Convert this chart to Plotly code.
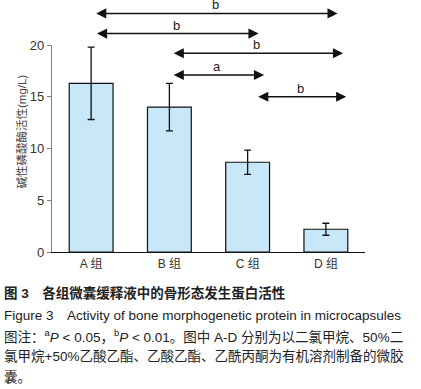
import plotly.graph_objects as go

# ---- data ----
categories = ["A 组", "B 组", "C 组", "D 组"]
values = [16.3, 14.0, 8.67, 2.2]
errors = [3.5, 2.3, 1.17, 0.58]
y_ticks = [0, 5, 10, 15, 20]
# significance comparisons: (from group index, to group index, label)
comparisons = [(0, 3, "b"), (0, 2, "b"), (1, 3, "b"), (1, 2, "a"), (2, 3, "b")]

y_title = "碱性磷酸酶活性(mg/L)"
caption_lines = [
    "<b>图 3\u3000各组微囊缓释液中的骨形态发生蛋白活性</b>",
    "Figure 3\u3000Activity of bone morphogenetic protein in microcapsules",
    "图注：<sup>a</sup><i>P</i> < 0.05，<sup>b</sup><i>P</i> < 0.01。图中 A-D 分别为以二氯甲烷、50%二",
    "氯甲烷+50%乙酸乙酯、乙酸乙酯、乙酰丙酮为有机溶剂制备的微胶",
    "囊。",
]

# ---- styling / layout ----
W, H = 421, 389
ML, MR, MT, MB = 52, 56, 45, 137
YMAX = 20
FONT = "Liberation Sans, Arial, Noto Sans CJK SC, sans-serif"

arrow_levels = [23.05, 21.1, 19.2, 17.1, 15.0]
left_off = [0.02, 0.03, 0.01, 0.01, 0.09]
right_off = [0.15, 0.14, 0.22, 0.21, 0.26]

x_idx = list(range(len(categories)))
plot_h = H - MT - MB
plot_w = W - ML - MR

fig = go.Figure()
fig.add_trace(go.Bar(
    x=x_idx, y=values, width=0.56,
    marker=dict(color="#C8E7F8", line=dict(color="#111111", width=1.2)),
    error_y=dict(type="data", array=errors, visible=True,
                 color="#111111", thickness=1.3, width=3.5),
    showlegend=False, hoverinfo="skip",
))

annotations = []
for k, (i, j, lab) in enumerate(comparisons):
    x0 = i + left_off[k]
    x1 = j + right_off[k]
    yp = arrow_levels[k] / YMAX
    annotations.append(dict(
        x=x1, y=yp, xref="x", yref="paper",
        ax=x0, ay=0, axref="x", ayref="pixel",
        showarrow=True, text=" ",
        arrowhead=2, startarrowhead=2, arrowside="end+start",
        arrowwidth=1.5, arrowsize=1.35, startarrowsize=1.35,
        arrowcolor="#111111", standoff=0, startstandoff=0,
    ))
    annotations.append(dict(
        x=(x0 + x1) / 2, y=yp, xref="x", yref="paper",
        yanchor="bottom", yshift=-1, showarrow=False, text=lab,
        font=dict(family=FONT, size=13, color="#222222"),
    ))

# y-axis title
annotations.append(dict(
    x=(12 - ML) / plot_w, y=(H - MB - 132) / plot_h,
    xref="paper", yref="paper",
    text=y_title, textangle=-90, showarrow=False,
    font=dict(family=FONT, size=11.5, color="#444444"),
))

caption_y = [293.3, 315.7, 336.0, 356.3, 376.7]
for line, py in zip(caption_lines, caption_y):
    annotations.append(dict(
        x=(2 - ML) / plot_w, y=(H - MB - py) / plot_h,
        xref="paper", yref="paper", xanchor="left", yanchor="middle",
        text=line, showarrow=False, align="left",
        font=dict(family=FONT, size=13.5, color="#222222"),
    ))

fig.update_layout(
    width=W, height=H,
    margin=dict(l=ML, r=MR, t=MT, b=MB, pad=0),
    paper_bgcolor="white", plot_bgcolor="white",
    font=dict(family=FONT, size=13, color="#333333"),
    xaxis=dict(
        range=[-0.5, len(categories) - 0.5],
        tickvals=x_idx, ticktext=categories,
        showline=True, linecolor="#111111", linewidth=1.3,
        ticks="", showgrid=False, zeroline=False,
        tickfont=dict(family=FONT, size=12, color="#333333"),
    ),
    yaxis=dict(
        range=[0, YMAX], tickvals=y_ticks,
        showline=True, linecolor="#808080", linewidth=1.3,
        ticks="outside", ticklen=4, tickcolor="#808080", tickwidth=1,
        showgrid=False, zeroline=False,
        tickfont=dict(family=FONT, size=13, color="#333333"),
    ),
    annotations=annotations,
    hovermode=False,
)

fig.write_html("out.html",
               config={"displayModeBar": False},
               post_script="document.body.style.margin='0';document.body.style.overflow='hidden';")
